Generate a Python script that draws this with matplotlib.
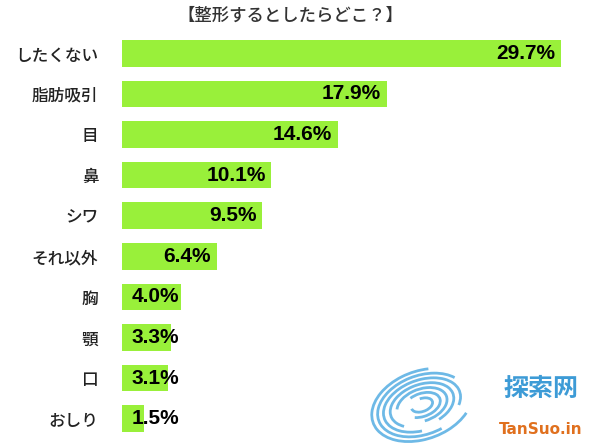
import matplotlib.pyplot as plt
from matplotlib.patches import Arc
import numpy as np

plt.rcParams['font.family'] = ['Noto Sans CJK JP', 'DejaVu Sans']

# data
categories = ['したくない', '脂肪吸引', '目', '鼻', 'シワ', 'それ以外', '胸', '顎', '口', 'おしり']
values = [29.7, 17.9, 14.6, 10.1, 9.5, 6.4, 4.0, 3.3, 3.1, 1.5]
title = '【整形するとしたらどこ？】'

fig = plt.figure(figsize=(6, 4.47), dpi=100)

# watermark logo (drawn behind the bars)
lax = fig.add_axes([0, 0, 1, 1])
lax.set_xlim(0, 600)
lax.set_ylim(447, 0)
lax.axis('off')
rings = [(104, 68), (92, 59), (80, 50), (66, 41), (52, 32), (38, 23), (22, 13)]
for i, (w, h) in enumerate(rings):
    lax.add_patch(Arc((422, 405), w, h, angle=-20, theta1=30 + i * 40, theta2=300 + i * 40,
                      color='#4aa8e0', lw=2.0, alpha=0.8))
lax.text(541, 389, '探索网', ha='center', va='center', fontsize=18,
         fontweight='bold', color='#3d9bd6')
lax.text(541, 429, 'TanSuo.in', ha='center', va='center', fontsize=11,
         fontweight='bold', color='#e0701e', family='DejaVu Sans')

ax = fig.add_axes([122 / 600, 1 - 439 / 447, 478 / 600, 406 / 447])
ax.set_facecolor('none')

y = np.arange(len(categories))
ax.barh(y, values, height=0.66, color='#99f03a', edgecolor='none')
ax.set_xlim(0, 478 / 14.78)
ax.set_ylim(len(categories) - 0.5, -0.5)

for yi, v in zip(y, values):
    ax.annotate(f'{v:.1f}%', xy=(max(v, 4.25), yi), xytext=(-4, 0),
                textcoords='offset points', ha='right', va='center',
                fontsize=15, fontweight='bold', family='Liberation Sans',
                color='black')

ax.set_yticks(y)
ax.set_yticklabels(categories, fontsize=12, color='#222222', fontweight='medium')
ax.tick_params(axis='y', length=0, pad=17)
ax.set_xticks([])
for s in ax.spines.values():
    s.set_visible(False)

fig.text(290 / 600, 1 - 16 / 447, title, ha='center', va='center',
         fontsize=12.5, color='#333333', fontweight='medium')

fig.savefig('out.png', dpi=100)
